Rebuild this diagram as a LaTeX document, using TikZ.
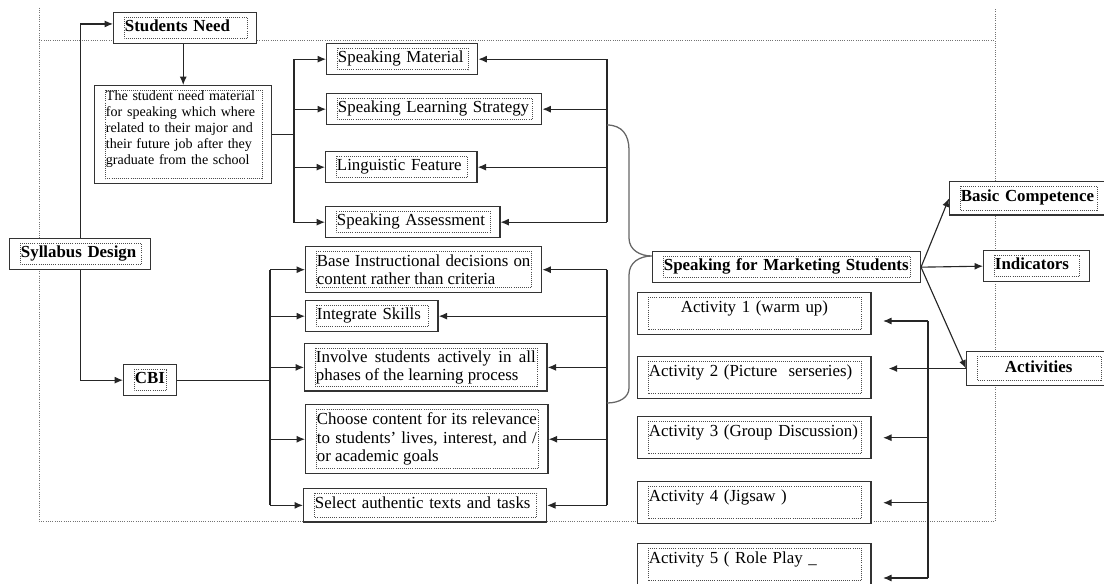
\documentclass[tikz,border=0pt]{standalone}
\usepackage{fontspec}
\setmainfont{Liberation Serif}
\usetikzlibrary{arrows.meta}
\hyphenpenalty=10000
\exhyphenpenalty=10000

\tikzset{
	boxbase/.style={draw=black!80, fill=white, line width=1pt, anchor=north west,
		inner xsep=8pt, inner ysep=3.5pt,
		path picture={\draw[densely dotted, line width=0.5pt, black!70]
			([xshift=7.5pt,yshift=-3pt]path picture bounding box.north west) rectangle
			([xshift=-7pt,yshift=3.5pt]path picture bounding box.south east);}},
	box/.style={boxbase, align=left, text height=10pt, text depth=5pt},
	head/.style={box, font=\fontsize{12}{13.2}\selectfont\bfseries},
	para/.style={boxbase, align=justify},
	actbox/.style={boxbase, align=left, text width=150pt, text height=11pt, text depth=12.5pt, inner ysep=3.2pt},
	conn/.style={draw=black!85, line width=0.8pt},
	arr/.style={conn, -{Latex[length=6pt,width=5pt]}},
	gaparr/.style={arr, shorten >=8pt},
	brc/.style={draw=black!60, line width=0.9pt},
	pageline/.style={draw=black!55, densely dotted, line width=0.6pt}
}

\begin{document}
\begin{tikzpicture}[x=0.025cm, y=-0.025cm, font=\fontsize{12}{13.2}\selectfont]
	\useasboundingbox (0,0) rectangle (1104,584);
	
	% page margins
	\draw[pageline] (39,8) -- (39,521) -- (995,521) -- (995,8);
	\draw[pageline] (39,40) -- (995,40);
	
	\node[head, text width=85.7pt] (sneed) at (113,12) {Students Need};
	\node[para, font=\fontsize{10}{11.4}\selectfont, align=left, text width=109.9pt] (needs) at (94,85) {The student need material for speaking which where related to their major and their future job after they graduate from the school\rule[-10pt]{0pt}{10pt}};
	\node[head, text width=84.3pt] (syl) at (9,238) {Syllabus Design};
	\node[head, text width=21.5pt] (cbi) at (123,364) {CBI};
	
	\node[box, text width=91.4pt] (sm) at (326,43) {Speaking Material};
	\node[box, text width=136.9pt] (sls) at (326,93) {Speaking Learning Strategy};
	\node[box, text width=91.6pt] (lf) at (325,151) {Linguistic Feature};
	\node[box, text width=107.8pt] (sa) at (325,206) {Speaking Assessment};
	
	\node[para, text width=151.8pt, minimum height=32.7pt] (base) at (305,246) {Base Instructional decisions on content rather than criteria};
	\node[box, text width=78.1pt] (ints) at (305,300) {Integrate Skills};
	\node[para, text width=156.3pt, minimum height=33.7pt] (inv) at (304,343) {Involve students actively in all phases of the learning process};
	\node[para, text width=156.3pt, minimum height=49.1pt] (cho) at (305,404) {Choose content for its relevance to students’ lives, interest, and / or academic goals};
	\node[box, text width=156.6pt, minimum height=23.7pt] (sel) at (303,488) {Select authentic texts and tasks};
	
	\node[head, text width=174.3pt] (smms) at (652,251) {Speaking for Marketing Students};
	\node[head, text width=95.7pt, minimum height=23.7pt] (bc) at (949,181) {Basic Competence};
	\node[head, text width=59.1pt] (ind) at (983,250) {Indicators};
	\node[head, text width=86.4pt, align=center, minimum height=23.9pt] (acts) at (966,351) {Activities};
	
	\node[actbox, align=center] (a1) at (637,292) {Activity 1 (warm up)};
	\node[actbox] (a2) at (637,356) {Activity 2 (Picture\ \ serseries)};
	\node[actbox] (a3) at (637,416) {Activity 3 (Group Discussion)};
	\node[actbox] (a4) at (637,481) {Activity 4 (Jigsaw )};
	\node[actbox] (a5) at (637,543) {Activity 5 ( Role Play \_};
	
	\coordinate (lbus) at (294,0);
	\coordinate (rbus) at (607,0);
	\coordinate (cbus) at (270,0);
	\coordinate (ab1) at (928,321);
	\coordinate (ab5) at (928,578);
	\coordinate (bt) at (607,125);
	\coordinate (bb) at (607,403);
	\coordinate (btip) at (652,256);
	
	\draw[arr] (syl.north) |- ([yshift=3pt]sneed.west);
	\draw[arr] (syl.south) |- (cbi.west);
	\draw[arr] (sneed.south -| needs.north) -- (needs.north);
	
	\draw[conn] (needs.east) -- (needs.east -| lbus);
	\draw[arr] (needs.east -| lbus) |- (sm.west);
	\draw[arr] (needs.east -| lbus) |- (sls.west);
	\draw[arr] (needs.east -| lbus) |- (lf.west);
	\draw[arr] (needs.east -| lbus) |- (sa.west);
	
	\draw[conn] (sm.east -| rbus) -- (sa.east -| rbus);
	\draw[arr] (sm.east -| rbus) -- (sm.east);
	\draw[arr] (sls.east -| rbus) -- (sls.east);
	\draw[arr] (lf.east -| rbus) -- (lf.east);
	\draw[arr] (sa.east -| rbus) -- (sa.east);
	
	\draw[conn] (cbi.east) -- (cbi.east -| cbus);
	\draw[conn] (base.west -| cbus) -- (sel.west -| cbus);
	\draw[arr] (base.west -| cbus) -- (base.west);
	\draw[arr] (ints.west -| cbus) -- (ints.west);
	\draw[arr] (inv.west -| cbus) -- (inv.west);
	\draw[arr] (cho.west -| cbus) -- (cho.west);
	\draw[arr] (sel.west -| cbus) -- (sel.west);
	
	\draw[conn] (base.east -| rbus) -- (sel.east -| rbus);
	\draw[arr] (base.east -| rbus) -- (base.east);
	\draw[arr] (ints.east -| rbus) -- (ints.east);
	\draw[arr] (inv.east -| rbus) -- (inv.east);
	\draw[arr] (cho.east -| rbus) -- (cho.east);
	\draw[arr] (sel.east -| rbus) -- (sel.east);
	
	% brace
	\draw[brc] (bt) .. controls (622,125) and (629,135) .. (629,150) -- (629,238) .. controls (629,250) and (640,256) .. (btip) .. controls (640,256) and (629,262) .. (629,275) -- (629,388) .. controls (629,397) and (620,403) .. (bb);
	
	\draw[arr] (smms.east) -- (bc.west);
	\draw[arr] (smms.east) -- (ind.west);
	\draw[arr] (smms.east) -- (acts.west);
	\draw[arr, shorten >=12pt] (acts.west) -- (acts.west -| a2.east);
	
	\draw[conn] (ab1) -- (ab5);
	\draw[gaparr] (ab1) -- (ab1 -| a1.east);
	\draw[gaparr] (a3.east -| ab1) -- (a3.east);
	\draw[gaparr] (a4.east -| ab1) -- (a4.east);
	\draw[gaparr] (ab5) -- (ab5 -| a5.east);
\end{tikzpicture}
\end{document}
